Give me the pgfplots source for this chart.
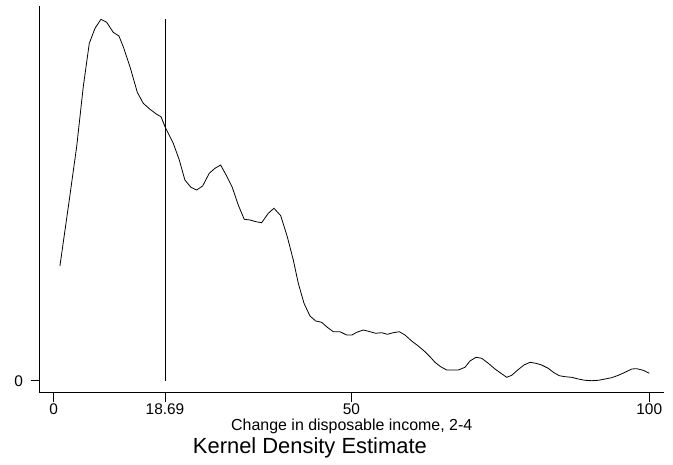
\documentclass[border=0pt]{standalone}
\usepackage{pgfplots}
\pgfplotsset{compat=1.18}
\usepackage{fontspec}
\setmainfont{Liberation Sans}
\begin{document}
\begin{tikzpicture}
\useasboundingbox (-39.5bp,-72.3bp) rectangle (633.5bp,392.7bp);
\begin{axis}[
  scale only axis,
  width=624.5bp, height=387bp,
  xmin=-2.38, xmax=102.47,
  ymin=-12, ymax=375,
  axis x line=bottom, axis y line=left,
  axis line style={-, black, line width=0.8bp},
  xtick={0,18.69,50,100},
  xticklabels={0,18.69,50,100},
  ytick={0},
  tick align=outside,
  major tick length=9bp,
  tick style={black, line width=0.8bp},
  /pgf/number format/assume math mode=true,
  xticklabel style={font=\fontsize{15.5}{18}\selectfont, anchor=base, yshift=-13bp},
  yticklabel style={font=\fontsize{15.5}{18}\selectfont, xshift=-4bp},
  clip=false,
]
\addplot[black, line width=0.8bp] coordinates {
(1.05,114.7) (2.62,180.7) (3.86,234) (4.97,294) (5.98,337.4) (6.94,352.4)
(7.94,361.4) (8.90,358.4) (10.0,348.4) (10.96,344.7) (11.68,334) (12.81,314)
(14.04,288.4) (15.04,277.4) (16.17,271.4) (17.29,266.4) (18.02,264) (18.69,254)
(20.08,237.4) (21.09,220.7) (22.03,200.7) (23.04,193.4) (24.0,190.7) (25.01,194.7)
(26.12,207.4) (27.08,212.4) (28.03,215.7) (29.04,204.7) (29.98,193.4) (30.99,175.7)
(31.99,161.4) (32.95,160.7) (33.96,159) (34.92,158) (36.03,167.4) (36.99,172.4)
(38.12,165) (39.22,144) (40.23,120.7) (41.07,97.4) (42.03,77.4) (43.03,64.7)
(43.99,59.7) (45.0,58.4) (45.94,53.4) (46.95,49) (48.07,49) (49.19,45.7)
(50.08,45.7) (50.87,48.4) (51.99,50.7) (53.1,49) (54.06,47.4) (55.07,48)
(56.02,46.4) (57.01,48) (58.02,49) (58.98,45.7) (60.1,39.7) (61.21,34.7)
(62.34,29) (63.18,24) (64.02,18.4) (64.97,14) (65.98,10.7) (66.99,10.7)
(67.93,10.7) (69.06,13.4) (69.89,19.7) (70.9,23.4) (71.86,22.4) (72.97,17.4)
(74.09,11.7) (75.1,7.4) (76.06,3.4) (76.9,5.4) (77.91,10.7) (78.96,15.7)
(79.97,18.4) (80.97,17.4) (81.92,15.7) (83.03,12.4) (83.99,8) (84.89,5)
(85.84,4) (86.96,3.4) (88.08,1.7) (89.2,0.4) (90.33,0) (91.44,0.4)
(92.57,1.7) (93.69,3) (94.8,5.4) (95.92,8.4) (97.05,11.7) (97.89,12)
(99.0,10.4) (100.0,7.4)
};
\addplot[black, line width=0.8bp] coordinates {(18.69,0) (18.69,361.7)};
\node[anchor=base, font=\fontsize{16}{19}\selectfont, inner sep=0pt] at (rel axis cs:0.5,-0.0982) {Change in disposable income, 2-4};
\node[anchor=base, font=\fontsize{22}{26}\selectfont, inner sep=0pt] at (rel axis cs:0.433,-0.1566) {Kernel Density Estimate};
\end{axis}
\end{tikzpicture}
\end{document}
